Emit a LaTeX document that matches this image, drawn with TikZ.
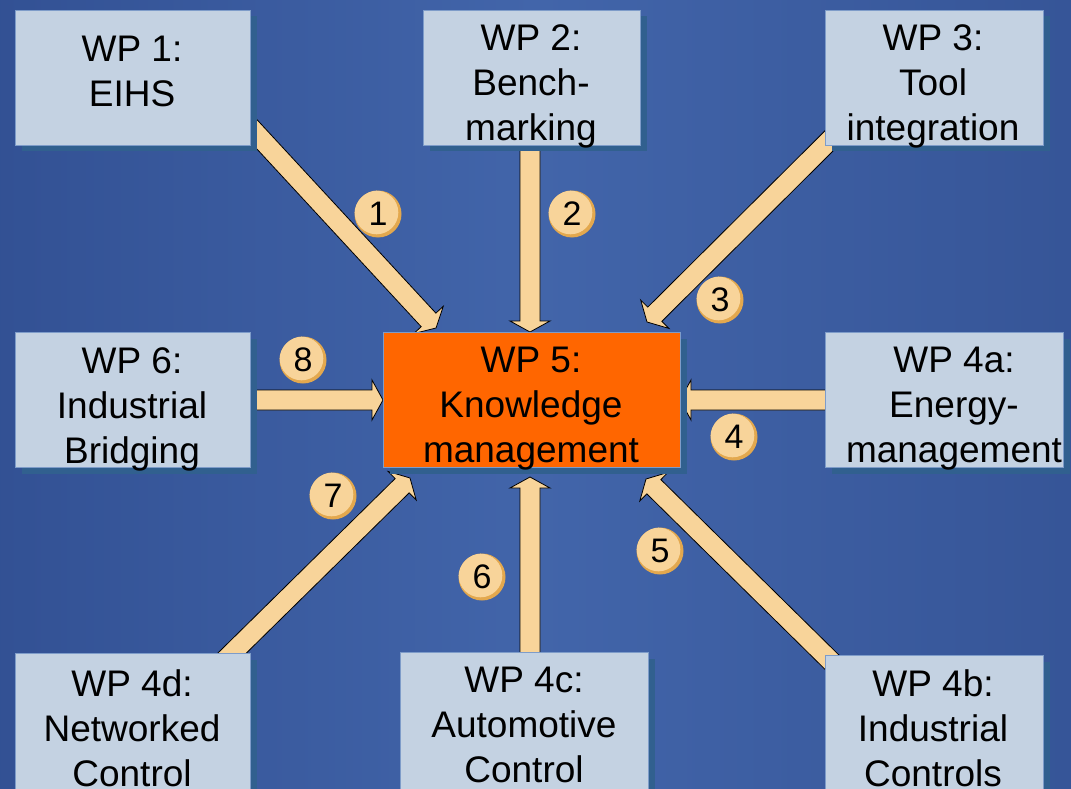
\documentclass[tikz,border=0pt]{standalone}
\usepackage{fontspec}
\setmainfont{Liberation Sans}
\usetikzlibrary{calc,shadows}
\definecolor{bgdark}{HTML}{233D7E}
\definecolor{bgmid}{HTML}{4265AA}
\definecolor{bgright}{HTML}{2A4585}
\definecolor{boxfill}{HTML}{C4D2E2}
\definecolor{boxline}{HTML}{7E9CC9}
\definecolor{shadowc}{HTML}{31608F}
\definecolor{wpfive}{HTML}{FF6600}
\definecolor{arrowfill}{HTML}{F8D49A}
\definecolor{numedge}{HTML}{E3A84E}
\pgfdeclarehorizontalshading{bgshade}{100bp}{color(0bp)=(bgdark); color(50bp)=(bgmid); color(100bp)=(bgright)}
\newcommand{\blockarrow}[2]{%
  \coordinate (hb) at ($(#2)!11pt!(#1)$);
  \draw[blockarrow] ($(#1)!10pt!90:(#2)$) -- ($(hb)!10pt!90:(#2)$) -- ($(hb)!20pt!90:(#2)$) -- (#2)
    -- ($(hb)!20pt!-90:(#2)$) -- ($(hb)!10pt!-90:(#2)$) -- ($(#1)!10pt!-90:(#2)$) -- cycle;}
\tikzset{
  blockarrow/.style={fill=arrowfill, draw=black, line width=0.8pt, line join=miter},
  wpbox/.style={draw=boxline, fill=boxfill, line width=1pt, anchor=north west, inner sep=0pt,
    drop shadow={shadow xshift=6pt, shadow yshift=-6pt, fill=shadowc, opacity=1}},
  wptext/.style={align=center, font=\fontsize{37}{45}\selectfont, inner sep=0pt, text=black},
  numc/.style={circle, minimum size=47pt, inner sep=0pt, fill=numedge,
    font=\fontsize{34}{34}\selectfont,
    path picture={\fill[arrowfill] ($(path picture bounding box.center)+(-1.5pt,1.5pt)$) circle (21.8pt);}}
}
\begin{document}
\begin{tikzpicture}[x=1pt,y=1pt]
\useasboundingbox (0,0) rectangle (1071,-789);
\clip (0,0) rectangle (1071,-789);
\shade[shading=bgshade] (0,0) rectangle (1071,-789);
% arrow ends
\coordinate (s1) at (240,-116);  \coordinate (e1) at (436,-328);
\coordinate (s2) at (530,-140);  \coordinate (e2) at (530,-332);
\coordinate (s3) at (845,-125);  \coordinate (e3) at (647,-322);
\coordinate (s8) at (240,-400);  \coordinate (e8) at (383,-400);
\coordinate (s4) at (835,-400);  \coordinate (e4) at (680,-400);
\coordinate (s5) at (845,-675);  \coordinate (e5) at (646,-479);
\coordinate (s6) at (530,-660);  \coordinate (e6) at (530,-477);
\coordinate (s7) at (222,-663);  \coordinate (e7) at (410,-478);
\blockarrow{s1}{e1}
\blockarrow{s2}{e2}
\blockarrow{s3}{e3}
\blockarrow{s8}{e8}
\blockarrow{s4}{e4}
\blockarrow{s5}{e5}
\blockarrow{s6}{e6}
\blockarrow{s7}{e7}
% boxes
\node[wpbox, minimum width=235pt, minimum height=135pt] (b1) at (15,-10) {};
\node[wpbox, minimum width=217pt, minimum height=135pt] (b2) at (423,-10) {};
\node[wpbox, minimum width=218pt, minimum height=135pt] (b3) at (825,-10) {};
\node[wpbox, minimum width=235pt, minimum height=135pt] (b6) at (15,-332) {};
\node[wpbox, fill=wpfive, minimum width=297pt, minimum height=135pt] (b5) at (383,-332) {};
\node[wpbox, minimum width=238pt, minimum height=135pt] (b4a) at (825,-332) {};
\node[wpbox, minimum width=235pt, minimum height=150pt] (b4d) at (15,-653) {};
\node[wpbox, minimum width=248pt, minimum height=150pt] (b4c) at (400,-652) {};
\node[wpbox, minimum width=218pt, minimum height=150pt] (b4b) at (825,-655) {};
% texts
\node[wptext] (t1) at (132,-71) {WP 1:\\EIHS};
\node[wptext] (t2) at (531,-86) {WP 2:\\Bench-\\marking};
\node[wptext] (t3) at (933,-86) {WP 3:\\Tool\\integration};
\node[wptext] (t6) at (132,-409) {WP 6:\\Industrial\\Bridging};
\node[wptext] (t5) at (531,-409) {WP 5:\\Knowledge\\management};
\node[wptext] (t4a) at (954,-409) {WP 4a:\\Energy-\\management};
\node[wptext] (t4d) at (132,-728) {WP 4d:\\Networked\\Control};
\node[wptext] (t4c) at (524,-725) {WP 4c:\\Automotive\\Control};
\node[wptext] (t4b) at (933,-728) {WP 4b:\\Industrial\\Controls};
% numbers
\node[numc] (n1) at (378,-214) {1};
\node[numc] (n2) at (572,-214) {2};
\node[numc] (n3) at (720,-300) {3};
\node[numc] (n8) at (303,-360) {8};
\node[numc] (n4) at (734,-437) {4};
\node[numc] (n7) at (333,-496) {7};
\node[numc] (n6) at (482,-577) {6};
\node[numc] (n5) at (660,-551) {5};
\end{tikzpicture}
\end{document}
